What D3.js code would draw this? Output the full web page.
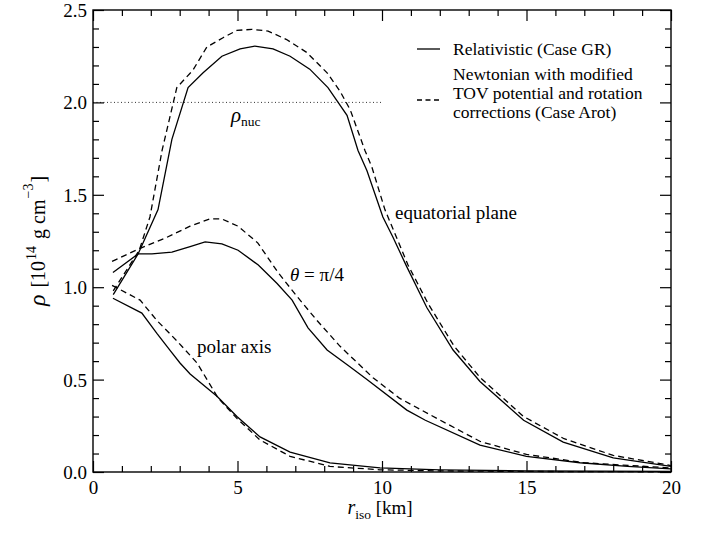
<!DOCTYPE html>
<html><head><meta charset="utf-8">
<script src="https://cdn.jsdelivr.net/npm/d3@7/dist/d3.min.js"></script>
<style>
body{margin:0;background:#fff;}
svg text{font-family:"Liberation Serif","Times New Roman",serif;fill:#000;}
</style></head>
<body><svg id="c" width="712" height="535"></svg>
<script>
// ---- data (r_iso in km, rho in 1e14 g/cm^3) ----
const eqGR_r   = [0.7, 1.56, 2.25, 2.73, 3.29, 3.81, 4.46, 5.09, 5.6, 6.23, 6.82, 7.5, 8.13, 8.79, 9.17, 9.48, 10.03, 10.38, 10.86, 11.55, 12.46, 13.39, 14.9, 16.27, 18.0, 20];
const eqGR_rho = [0.96, 1.18, 1.42, 1.80, 2.08, 2.16, 2.25, 2.29, 2.305, 2.29, 2.25, 2.18, 2.08, 1.93, 1.74, 1.63, 1.38, 1.27, 1.11, 0.89, 0.66, 0.49, 0.28, 0.162, 0.076, 0.03];
const eqArot_r   = [0.7, 1.6, 1.97, 2.39, 2.9, 3.46, 3.94, 4.5, 4.98, 5.5, 6.06, 6.7, 7.4, 8.1, 8.55, 8.9, 9.41, 9.65, 10.1, 10.5, 10.9, 11.6, 12.5, 13.4, 14.9, 16.3, 18, 20];
const eqArot_rho = [0.98, 1.20, 1.38, 1.74, 2.08, 2.175, 2.30, 2.35, 2.39, 2.395, 2.386, 2.34, 2.27, 2.16, 2.06, 1.96, 1.74, 1.65, 1.42, 1.27, 1.12, 0.91, 0.68, 0.51, 0.30, 0.18, 0.09, 0.035];
const thGR_r   = [0.69, 1.56, 2.04, 2.73, 3.36, 3.88, 4.46, 5.02, 5.72, 6.37, 6.89, 7.44, 8.1, 8.89, 9.48, 10.86, 11.5, 13.39, 15, 16.85, 18.5, 20];
const thGR_rho = [1.08, 1.18, 1.18, 1.19, 1.22, 1.245, 1.235, 1.20, 1.12, 1.02, 0.93, 0.78, 0.66, 0.57, 0.50, 0.335, 0.28, 0.145, 0.085, 0.05, 0.03, 0.017];
const thArot_r   = [0.66, 1.63, 2.56, 3.36, 4.05, 4.45, 5.02, 5.7, 6.4, 7.06, 7.75, 8.55, 9.69, 10.6, 11.66, 13.4, 15, 17, 20];
const thArot_rho = [1.14, 1.21, 1.27, 1.33, 1.37, 1.37, 1.33, 1.24, 1.08, 0.95, 0.82, 0.68, 0.51, 0.40, 0.31, 0.165, 0.095, 0.05, 0.022];
const poGR_r   = [0.69, 1.69, 2.21, 2.66, 3.01, 3.36, 4.29, 4.98, 5.78, 6.82, 8.2, 9.93, 12, 15, 20];
const poGR_rho = [0.94, 0.86, 0.75, 0.66, 0.59, 0.53, 0.41, 0.30, 0.19, 0.108, 0.049, 0.022, 0.012, 0.006, 0.003];
const poArot_r   = [0.66, 1.63, 2.21, 2.9, 3.6, 4.33, 4.98, 5.78, 6.82, 8.2, 9.93, 12, 15, 20];
const poArot_rho = [1.01, 0.93, 0.82, 0.71, 0.59, 0.40, 0.29, 0.173, 0.085, 0.03, 0.012, 0.006, 0.003, 0.001];
const rhoNuc = 2.0;
const xMajor = [0, 5, 10, 15, 20];
const yMajor = [0.0, 0.5, 1.0, 1.5, 2.0, 2.5];
const legendLabels = ["Relativistic (Case GR)", "Newtonian with modified", "TOV potential and rotation", "corrections (Case Arot)"];

// ---- layout ----
const svg = d3.select("#c");
const L = 93, R = 671, T = 10, B = 472;
const x = d3.scaleLinear().domain([0, 20]).range([L, R]);
const y = d3.scaleLinear().domain([0, 2.5]).range([B, T]);
const FONT = 19;

// dotted nuclear density line
svg.append("line").attr("x1", x(0)).attr("x2", x(10)).attr("y1", y(rhoNuc)).attr("y2", y(rhoNuc))
  .attr("stroke", "#333").attr("stroke-width", 1).attr("stroke-dasharray", "1,2.5");

// curves
const line = d3.line().x(d => x(d[0])).y(d => y(d[1]));
const zip = (a, b) => a.map((v, i) => [v, b[i]]);
const series = [
  [eqGR_r, eqGR_rho, null], [eqArot_r, eqArot_rho, "6,4"],
  [thGR_r, thGR_rho, null], [thArot_r, thArot_rho, "6,4"],
  [poGR_r, poGR_rho, null], [poArot_r, poArot_rho, "6,4"]
];
series.forEach(s => {
  svg.append("path").attr("d", line(zip(s[0], s[1]))).attr("fill", "none")
    .attr("stroke", "#000").attr("stroke-width", 1.3)
    .attr("stroke-dasharray", s[2]);
});

// axes (ticks inward on all four sides)
const gB = svg.append("g").attr("transform", `translate(0,${B})`)
  .call(d3.axisBottom(x).tickValues(xMajor).tickSize(-11).tickPadding(8).tickFormat(d3.format("d")));
svg.append("g").attr("transform", `translate(0,${T})`)
  .call(d3.axisTop(x).tickValues(xMajor).tickSize(-11).tickFormat(""));
const gL = svg.append("g").attr("transform", `translate(${L},0)`)
  .call(d3.axisLeft(y).tickValues(yMajor).tickSize(-11).tickPadding(6).tickFormat(d3.format(".1f")));
svg.append("g").attr("transform", `translate(${R},0)`)
  .call(d3.axisRight(y).tickValues(yMajor).tickSize(-11).tickFormat(""));
const xMinor = d3.range(0, 21, 1).filter(v => v % 5 !== 0);
const yMinor = d3.range(0, 26, 1).map(v => v / 10).filter((v, i) => i % 5 !== 0);
svg.append("g").attr("transform", `translate(0,${B})`).call(d3.axisBottom(x).tickValues(xMinor).tickSize(-6).tickFormat(""));
svg.append("g").attr("transform", `translate(0,${T})`).call(d3.axisTop(x).tickValues(xMinor).tickSize(-6).tickFormat(""));
svg.append("g").attr("transform", `translate(${L},0)`).call(d3.axisLeft(y).tickValues(yMinor).tickSize(-6).tickFormat(""));
svg.append("g").attr("transform", `translate(${R},0)`).call(d3.axisRight(y).tickValues(yMinor).tickSize(-6).tickFormat(""));
svg.selectAll(".domain").attr("stroke", "none");
svg.selectAll(".tick line").attr("stroke", "#000").attr("stroke-width", 1.2);
svg.selectAll(".tick text").attr("font-family", "Liberation Serif").attr("font-size", FONT).attr("fill", "#000");
gL.selectAll(".tick text").attr("dy", "0.34em");
gB.selectAll(".tick text").attr("dy", "0.76em");
svg.append("rect").attr("x", L).attr("y", T).attr("width", R - L).attr("height", B - T)
  .attr("fill", "none").attr("stroke", "#000").attr("stroke-width", 1.4);

// legend
svg.append("line").attr("x1", 417).attr("x2", 440).attr("y1", 49).attr("y2", 49).attr("stroke", "#000").attr("stroke-width", 1.3);
svg.append("line").attr("x1", 417).attr("x2", 440).attr("y1", 100).attr("y2", 100).attr("stroke", "#000").attr("stroke-width", 1.3).attr("stroke-dasharray", "5,3.5");
[55, 80, 99, 118].forEach((by, i) => {
  svg.append("text").attr("x", 453).attr("y", by).attr("font-size", 17.5).text(legendLabels[i]);
});

// annotations
const nuc = svg.append("text").attr("x", 231).attr("y", 122).attr("font-size", 21);
nuc.append("tspan").attr("font-style", "italic").text("ρ");
nuc.append("tspan").attr("font-size", 13.5).attr("dy", 4).text("nuc");
svg.append("text").attr("x", 395).attr("y", 219).attr("font-size", FONT).text("equatorial plane");
const th = svg.append("text").attr("x", 290).attr("y", 281).attr("font-size", FONT);
th.append("tspan").attr("font-style", "italic").text("θ");
th.append("tspan").text(" = π/4");
svg.append("text").attr("x", 197).attr("y", 353).attr("font-size", FONT).text("polar axis");

// x title
const xt = svg.append("text").attr("x", 380).attr("y", 514).attr("text-anchor", "middle").attr("font-size", FONT);
xt.append("tspan").attr("font-style", "italic").attr("font-size", 20).text("r");
xt.append("tspan").attr("font-size", 13.5).attr("dy", 5).text("iso");
xt.append("tspan").attr("dy", -5).text(" [km]");

// y title
const yt = svg.append("text").attr("transform", `translate(45,${(T + B) / 2}) rotate(-90)`)
  .attr("text-anchor", "middle").attr("font-size", 20);
yt.append("tspan").attr("font-style", "italic").attr("font-size", 24).text("ρ");
yt.append("tspan").attr("dx", 2).text(" [10");
yt.append("tspan").attr("font-size", 14).attr("dy", -9).attr("dx", 1).text("14");
yt.append("tspan").attr("dy", 9).attr("dx", 2).text(" g cm");
yt.append("tspan").attr("font-size", 14).attr("dy", -12).attr("dx", 1).text("−3");
yt.append("tspan").attr("dy", 12).attr("dx", 1).text("]");
</script></body></html>
